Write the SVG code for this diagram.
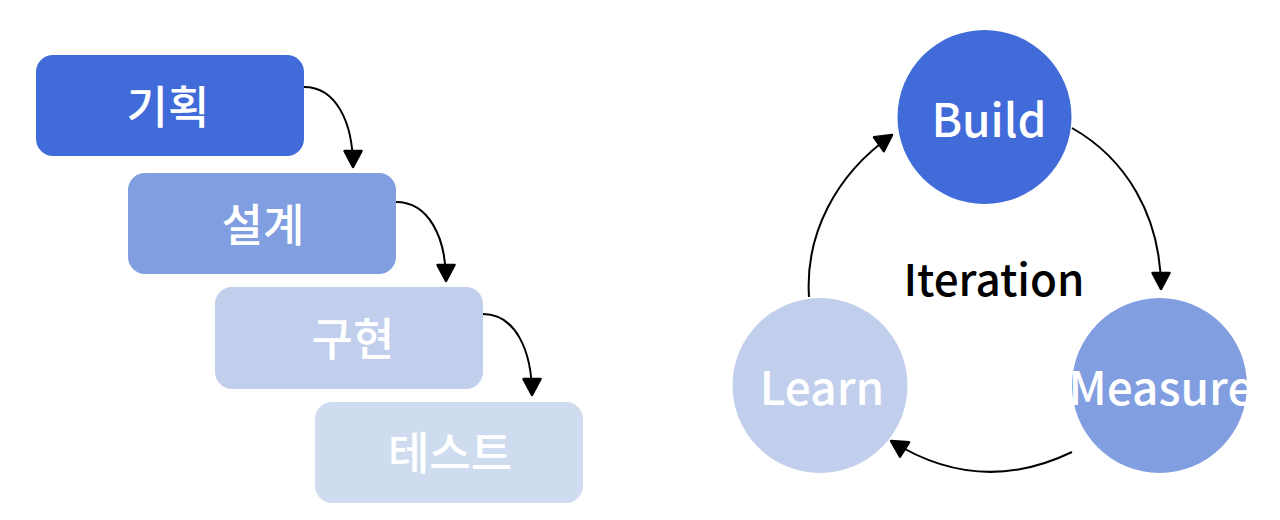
<svg xmlns="http://www.w3.org/2000/svg" width="1280" height="520" viewBox="0 0 1280 520">
  <style>
    .ko { font-family: "Noto Sans CJK KR", "Noto Sans", sans-serif; font-size: 45px; font-weight: 500; fill: #ffffff; text-anchor: middle; }
    .en { font-family: "Noto Sans CJK KR", "Noto Sans", sans-serif; font-size: 46px; font-weight: 500; fill: #ffffff; text-anchor: middle; }
    .lbl { font-family: "Noto Sans CJK KR", "Noto Sans", sans-serif; font-size: 44px; font-weight: 500; fill: #000000; text-anchor: middle; }
    .c1 { fill: #416BD8; }
    .c2 { fill: #809EE0; }
    .c3 { fill: #C1CFEC; }
    .c4 { fill: #CFDBEE; }
    .edge { fill: none; stroke: #000000; stroke-width: 2; }
  </style>
  <defs>
    <marker id="arrow" markerUnits="userSpaceOnUse" viewBox="0 0 22 22" markerWidth="22" markerHeight="22" refX="19" refY="11" orient="auto">
      <path d="M3,2.5 L19,11 L3,19.5 Z" fill="#000000" stroke="#000000" stroke-width="2.5" stroke-linejoin="round"/>
    </marker>
  </defs>
  <rect width="1280" height="520" fill="#ffffff"/>

  <g id="node-plan">
    <rect class="c1" x="36" y="55" width="268" height="101" rx="17"/>
    <text class="ko" x="168" y="124">기획</text>
  </g>
  <g id="node-design">
    <rect class="c2" x="128" y="173" width="268" height="101" rx="17"/>
    <text class="ko" x="263" y="242">설계</text>
  </g>
  <g id="node-impl">
    <rect class="c3" x="215" y="287" width="268" height="102" rx="17"/>
    <text class="ko" x="353" y="356">구현</text>
  </g>
  <g id="node-test">
    <rect class="c4" x="315" y="402" width="268" height="101" rx="17"/>
    <text class="ko" x="450" y="470">테스트</text>
  </g>

  <g id="node-build">
    <circle class="c1" cx="984.5" cy="117" r="87"/>
    <text class="en" x="989" y="137">Build</text>
  </g>
  <g id="node-measure">
    <circle class="c2" cx="1159.5" cy="385.5" r="87.5"/>
    <text class="en" x="1161" y="405">Measure</text>
  </g>
  <g id="node-learn">
    <circle class="c3" cx="820" cy="385.5" r="87.5"/>
    <text class="en" x="822" y="405">Learn</text>
  </g>
  <g id="label-iteration">
    <text class="lbl" x="994" y="296">Iteration</text>
  </g>

  <g id="connectors">
    <path class="edge" d="M304,87 C336,87 353,122 353,167" marker-end="url(#arrow)"/>
    <path class="edge" d="M396,202 C428,202 446,236 446,281" marker-end="url(#arrow)"/>
    <path class="edge" d="M483,314 C515,314 532,350 532,395" marker-end="url(#arrow)"/>
    <path class="edge" d="M809,297 C805,235 835,175 892,135" marker-end="url(#arrow)"/>
    <path class="edge" d="M1072,128 C1125,158 1161,215 1161,289" marker-end="url(#arrow)"/>
    <path class="edge" d="M1072,452 C1010,482 950,478 891,441" marker-end="url(#arrow)"/>
  </g>
</svg>
